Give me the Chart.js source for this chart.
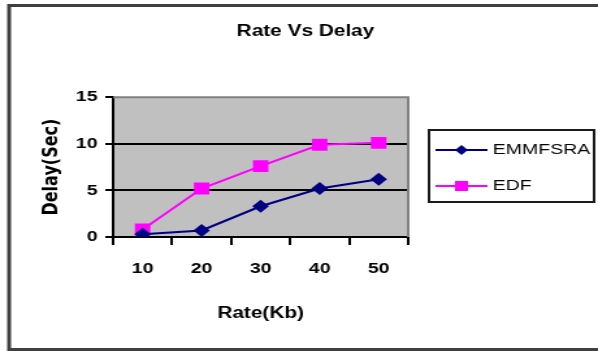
<!DOCTYPE html>
<html>
<head>
<meta charset="utf-8">
<title>Rate Vs Delay</title>
<script src="https://cdn.jsdelivr.net/npm/chart.js@4.4.0/dist/chart.umd.min.js"></script>
<style>
  html, body { margin: 0; padding: 0; background: #fff; overflow: hidden; }
  /* the source picture is stretched sideways, so the chart is drawn narrower and widened */
  #wrap { position: absolute; left: 0; top: 0; width: 460px; height: 351px; transform: scaleX(1.3); transform-origin: 0 0; }
</style>
</head>
<body>
<div id="wrap"><canvas id="rate-chart"></canvas></div>
<script>
const rates = ["10", "20", "30", "40", "50"];
const emmfsraDelay = [0.3, 0.7, 3.3, 5.2, 6.2];
const edfDelay = [0.8, 5.2, 7.6, 9.9, 10.1];
const delayTicks = [0, 5, 10, 15];

Chart.defaults.font.family = "'Liberation Sans', Arial, sans-serif";
Chart.defaults.color = "#000";

// Grey plot area, with the darker top and right edges
const plotBackground = {
  id: "plotBackground",
  beforeDraw(chart) {
    const { ctx, chartArea: a } = chart;
    ctx.save();
    ctx.fillStyle = "#c0c0c0";
    ctx.fillRect(a.left, a.top, a.width, a.height);
    ctx.restore();
  },
  beforeDatasetsDraw(chart) {
    const { ctx, chartArea: a } = chart;
    ctx.save();
    ctx.strokeStyle = "#808080";
    ctx.lineWidth = 2;
    ctx.beginPath();
    ctx.moveTo(a.left, a.top);
    ctx.lineTo(a.right, a.top);
    ctx.lineTo(a.right, a.bottom);
    ctx.stroke();
    ctx.restore();
  },
};

// Outer frame and the boxed legend on the right
const frameAndLegend = {
  id: "frameAndLegend",
  afterDraw(chart) {
    const ctx = chart.ctx;
    ctx.save();
    ctx.strokeStyle = "#404040";
    ctx.lineWidth = 3;
    ctx.beginPath();
    ctx.moveTo(470, 5.5);
    ctx.lineTo(7, 5.5);
    ctx.lineTo(7, 349.5);
    ctx.lineTo(470, 349.5);
    ctx.stroke();

    ctx.strokeStyle = "#1a1a1a";
    ctx.lineWidth = 2;
    ctx.strokeRect(330, 130, 127, 72);

    chart.data.datasets.forEach((ds, i) => {
      const y = 150 + i * 36;
      ctx.strokeStyle = ds.borderColor;
      ctx.lineWidth = 2;
      ctx.beginPath();
      ctx.moveTo(335, y);
      ctx.lineTo(375, y);
      ctx.stroke();
      ctx.fillStyle = ds.pointBackgroundColor;
      ctx.beginPath();
      if (ds.pointStyle === "rectRot") {
        ctx.moveTo(355, y - 5);
        ctx.lineTo(360, y);
        ctx.lineTo(355, y + 5);
        ctx.lineTo(350, y);
        ctx.closePath();
      } else {
        ctx.rect(350, y - 5, 10, 10);
      }
      ctx.fill();
      ctx.fillStyle = "#000";
      ctx.font = "15px 'Liberation Sans', Arial, sans-serif";
      ctx.textBaseline = "middle";
      ctx.fillText(ds.label, 379, y);
    });
    ctx.restore();
  },
};

function displayDelayChart() {
  const ctx = document.getElementById("rate-chart").getContext("2d");

  new Chart(ctx, {
    type: "line",
    data: {
      labels: rates,
      datasets: [
        {
          label: "EMMFSRA",
          data: emmfsraDelay,
          borderColor: "#000080",
          backgroundColor: "#000080",
          pointBackgroundColor: "#000080",
          pointBorderColor: "#000080",
          pointStyle: "rectRot",
          pointRadius: 5,
          borderWidth: 2,
          tension: 0,
        },
        {
          label: "EDF",
          data: edfDelay,
          borderColor: "#ff00ff",
          backgroundColor: "#ff00ff",
          pointBackgroundColor: "#ff00ff",
          pointBorderColor: "#ff00ff",
          pointStyle: "rect",
          pointRadius: 7,
          borderWidth: 2,
          tension: 0,
        },
      ],
    },
    options: {
      responsive: true,
      maintainAspectRatio: false,
      animation: false,
      events: [],
      layout: { padding: { left: 10, right: 0, top: 4, bottom: 4 } },
      plugins: {
        legend: { display: false },
        tooltip: { enabled: false },
        title: {
          display: true,
          text: "Rate Vs Delay",
          font: { size: 16, weight: "bold" },
          padding: { top: 18, bottom: 56 },
        },
      },
      scales: {
        x: {
          offset: true,
          grid: {
            offset: true,
            drawOnChartArea: false,
            tickLength: 8,
            color: "#000",
            lineWidth: 2,
          },
          border: { color: "#000", width: 2 },
          ticks: { font: { size: 15, weight: "bold" }, padding: 15 },
          title: {
            display: true,
            text: "Rate(Kb)",
            font: { size: 16, weight: "bold" },
            padding: { top: 0, bottom: 24 },
          },
          afterFit: (scale) => { scale.height = 110; },
        },
        y: {
          min: 0,
          max: 15,
          afterBuildTicks: (scale) => {
            scale.ticks = delayTicks.map((v) => ({ value: v }));
          },
          grid: {
            color: (c) => (c.tick && (c.tick.value === 5 || c.tick.value === 10) ? "#000" : "rgba(0,0,0,0)"),
            tickColor: "#000",
            tickLength: 6,
            lineWidth: 2,
          },
          border: { color: "#000", width: 2 },
          ticks: { font: { size: 15, weight: "bold" }, padding: 6 },
          title: {
            display: true,
            text: "Delay(Sec)",
            font: { family: "'DejaVu Sans', sans-serif", size: 16, weight: "bold" },
            padding: { top: 20, bottom: 0 },
          },
          afterFit: (scale) => { scale.width = 77; },
        },
        // empty axis that only keeps room for the legend on the right
        side: {
          type: "linear",
          position: "right",
          grid: { display: false },
          border: { display: false },
          ticks: { display: false },
          afterFit: (scale) => { scale.width = 146; },
        },
      },
    },
    plugins: [plotBackground, frameAndLegend],
  });
}

document.addEventListener("DOMContentLoaded", () => {
  displayDelayChart();
});
</script>
</body>
</html>
